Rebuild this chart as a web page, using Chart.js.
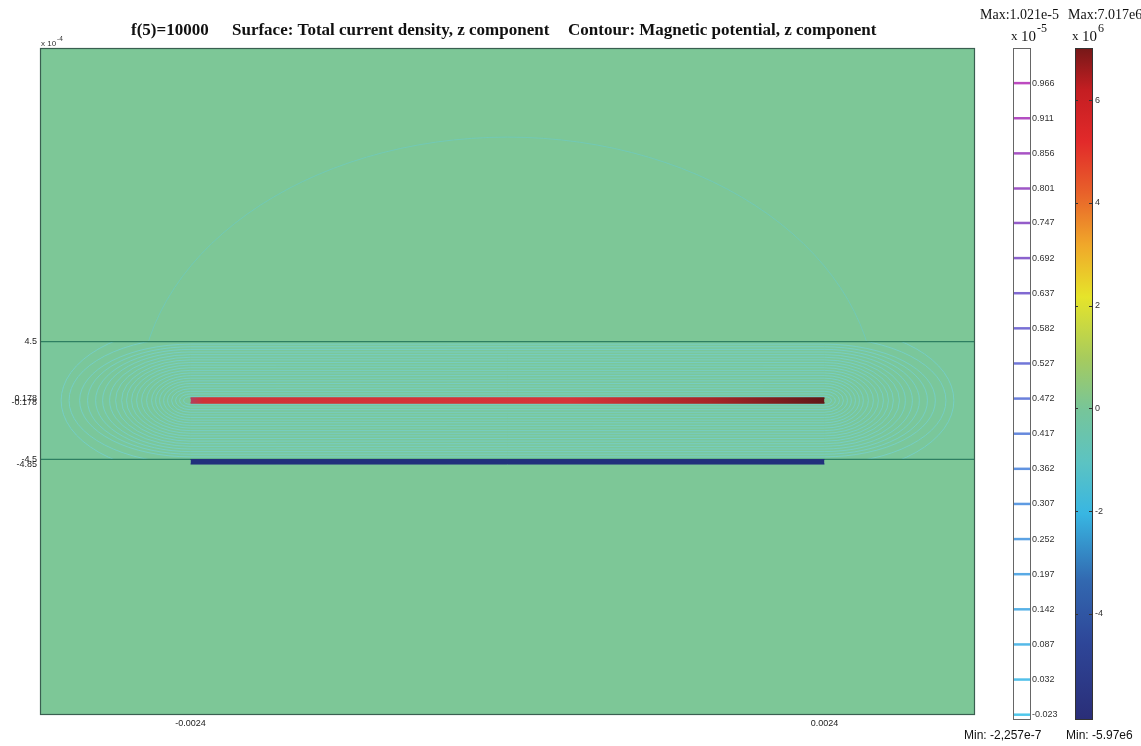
<!DOCTYPE html>
<html><head><meta charset="utf-8">
<script src="https://cdn.jsdelivr.net/npm/chart.js@4.4.0/dist/chart.umd.min.js"></script>
<style>html,body{margin:0;padding:0;background:#fff;}#wrap{width:1141px;height:746px;position:relative;}</style>
</head><body><div id="wrap"><canvas id="c" width="1141" height="746"></canvas></div>
<script>
// ---- data (x in m, y in units of 1e-4 m) ----
const xRange = [-0.00354, 0.00354];
const yRange = [-24.0, 26.9];
const xTicks = [-0.0024, 0.0024];
const xTickLabels = ['-0.0024', '0.0024'];
const yTicks = [4.5, 0.178, -0.178, -4.5, -4.85];
const yTickLabels = ['4.5', '0.178', '-0.178', '-4.5', '-4.85'];
const bandLines = [4.5, -4.5];
const conductorX = [-0.0024, 0.0024];
const topConductorY = [-0.178, 0.178];
const bottomConductorY = [-4.85, -4.5];
// contour half-heights (1e-4 m) and cap widths beyond conductor ends (m)
const contourOffsets = [0.3, 0.5, 0.7, 0.9, 1.1, 1.3, 1.5, 1.7, 1.9, 2.1, 2.3, 2.5, 2.7, 2.9, 3.1, 3.3, 3.5, 3.7, 3.9, 4.1, 4.3, 4.8, 5.6];
const contourCapWidths = [0.000053, 0.000083, 0.000114, 0.000144, 0.000174, 0.000204, 0.000235, 0.000265, 0.000295, 0.000333, 0.000371, 0.000409, 0.000447, 0.000485, 0.000522, 0.000568, 0.000613, 0.000666, 0.000719, 0.00078, 0.00084, 0.00092, 0.00098];
const outerArc = [0.00279, 20.1];
// contour legend (x1e-5) and surface legend (x1e6)
const potentialLevels = [0.966, 0.911, 0.856, 0.801, 0.747, 0.692, 0.637, 0.582, 0.527, 0.472, 0.417, 0.362, 0.307, 0.252, 0.197, 0.142, 0.087, 0.032, -0.023];
const potentialRange = [-0.0235, 1.021];
const currentTicks = [6, 4, 2, 0, -2, -4];
const currentRange = [-5.97, 7.017];

const sans = "'Liberation Sans', Arial, sans-serif";
const serif = "'Liberation Serif', 'Times New Roman', serif";

function seg(x0, x1, y) { return [{x: x0, y: y}, {x: x1, y: y}]; }

function redGrad(ctx) {
  const chart = ctx.chart;
  if (!chart.chartArea) return '#c83232';
  const xs = chart.scales.x;
  const g = chart.ctx.createLinearGradient(xs.getPixelForValue(conductorX[0]), 0, xs.getPixelForValue(conductorX[1]), 0);
  g.addColorStop(0, '#b04060');
  g.addColorStop(0.02, '#d03238');
  g.addColorStop(0.6, '#d6343a');
  g.addColorStop(0.82, '#a82428');
  g.addColorStop(1, '#601818');
  return g;
}

function levelColor(v) {
  const t = (v - potentialRange[0]) / (potentialRange[1] - potentialRange[0]);
  const stops = [[0, [80, 200, 235]], [0.35, [95, 150, 225]], [0.55, [115, 115, 215]], [0.75, [150, 90, 200]], [1, [200, 70, 190]]];
  for (let i = 1; i < stops.length; i++) {
    if (t <= stops[i][0]) {
      const a = stops[i - 1], b = stops[i];
      const f = (t - a[0]) / (b[0] - a[0]);
      const c = a[1].map((cv, k) => Math.round(cv + (b[1][k] - cv) * f));
      return `rgb(${c[0]},${c[1]},${c[2]})`;
    }
  }
  return 'rgb(200,70,190)';
}

function noPad(s) { s.paddingTop = 0; s.paddingBottom = 0; }

const decorPlugin = {
  id: 'decor',
  beforeDraw(chart) {
    const {ctx, chartArea: ca} = chart;
    ctx.save();
    ctx.fillStyle = '#ffffff';
    ctx.fillRect(0, 0, chart.width, chart.height);
    ctx.fillStyle = '#7dc797';
    ctx.fillRect(ca.left, ca.top, ca.width, ca.height);
    ctx.restore();
  },
  beforeDatasetsDraw(chart) {
    const {ctx, chartArea: ca, scales: {x, y}} = chart;
    const yTop = y.getPixelForValue(bandLines[0]), yBot = y.getPixelForValue(bandLines[1]);
    const xl = x.getPixelForValue(conductorX[0]), xr = x.getPixelForValue(conductorX[1]);
    const yc = y.getPixelForValue(0), xc = x.getPixelForValue(0);
    ctx.save();
    ctx.beginPath(); ctx.rect(ca.left, yTop, ca.width, yBot - yTop); ctx.clip();
    ctx.fillStyle = 'rgba(100,205,200,0.10)';
    ctx.fillRect(ca.left, yTop, ca.width, yBot - yTop);
    ctx.strokeStyle = 'rgba(115,212,228,0.7)';
    ctx.lineWidth = 0.8;
    contourOffsets.forEach((d, i) => {
      const ry = Math.abs(y.getPixelForValue(d) - yc);
      const rx = Math.abs(x.getPixelForValue(conductorX[0] - contourCapWidths[i]) - xl);
      ctx.beginPath();
      ctx.moveTo(xl, yc - ry); ctx.lineTo(xr, yc - ry);
      ctx.ellipse(xr, yc, rx, ry, 0, -Math.PI / 2, Math.PI / 2);
      ctx.lineTo(xl, yc + ry);
      ctx.ellipse(xl, yc, rx, ry, 0, Math.PI / 2, 3 * Math.PI / 2);
      ctx.stroke();
    });
    ctx.restore();
    ctx.save();
    ctx.beginPath(); ctx.rect(ca.left, ca.top, ca.width, yTop - ca.top); ctx.clip();
    const arx = Math.abs(x.getPixelForValue(outerArc[0]) - xc);
    const ary = Math.abs(y.getPixelForValue(outerArc[1]) - yc);
    ctx.strokeStyle = 'rgba(100,205,220,0.55)';
    ctx.lineWidth = 0.8;
    ctx.beginPath(); ctx.ellipse(xc, yc, arx, ary, 0, 0, 2 * Math.PI); ctx.stroke();
    ctx.restore();
  },
  afterDraw(chart) {
    const {ctx, chartArea: ca, scales} = chart;
    ctx.save();
    ctx.lineWidth = 1.2;
    ctx.strokeStyle = '#3a5f50';
    ctx.strokeRect(ca.left + 0.5, ca.top + 0.5, ca.width - 1, ca.height - 1);

    // contour legend bar
    const s2 = scales.y2;
    const b2x = s2.left + 38, b2w = 17;
    const b2t = s2.getPixelForValue(potentialRange[1]), b2b = s2.getPixelForValue(potentialRange[0]) + 4;
    ctx.fillStyle = '#ffffff';
    ctx.fillRect(b2x, b2t, b2w, b2b - b2t);
    ctx.strokeStyle = '#666';
    ctx.lineWidth = 1;
    ctx.strokeRect(b2x + 0.5, b2t + 0.5, b2w, b2b - b2t);
    ctx.lineWidth = 2.5;
    potentialLevels.forEach(v => {
      const py = s2.getPixelForValue(v);
      ctx.strokeStyle = levelColor(v);
      ctx.beginPath(); ctx.moveTo(b2x + 1, py); ctx.lineTo(b2x + b2w, py); ctx.stroke();
    });

    // surface legend bar (jet-like)
    const s3 = scales.y3;
    const b3x = s3.left + 15, b3w = 17;
    const b3t = s3.getPixelForValue(currentRange[1]), b3b = s3.getPixelForValue(currentRange[0]) + 4;
    const g = ctx.createLinearGradient(0, b3b, 0, b3t);
    const span = currentRange[1] - currentRange[0];
    const jet = [[-5.97, '#2a2e78'], [-4.5, '#2e4698'], [-3.3, '#3268b0'], [-2.0, '#38b6e2'], [-1.0, '#5cc3c2'], [0, '#76c59a'], [1.0, '#a6cb5e'], [2.2, '#e6e42a'], [3.2, '#f0a82a'], [4.2, '#e8622a'], [5.2, '#e22a2a'], [6.2, '#c41e22'], [7.017, '#761818']];
    jet.forEach(([v, c]) => g.addColorStop((v - currentRange[0]) / span, c));
    ctx.fillStyle = g;
    ctx.fillRect(b3x, b3t, b3w, b3b - b3t);
    ctx.strokeStyle = '#333';
    ctx.lineWidth = 1;
    ctx.strokeRect(b3x + 0.5, b3t + 0.5, b3w, b3b - b3t);
    currentTicks.forEach(v => {
      const py = Math.round(s3.getPixelForValue(v)) + 0.5;
      ctx.beginPath();
      ctx.moveTo(b3x, py); ctx.lineTo(b3x + 3, py);
      ctx.moveTo(b3x + b3w - 3, py); ctx.lineTo(b3x + b3w + 1, py);
      ctx.stroke();
    });

    // texts
    ctx.fillStyle = '#111';
    ctx.textBaseline = 'alphabetic';
    ctx.textAlign = 'left';
    ctx.font = `bold 17px ${serif}`;
    ctx.fillText('f(5)=10000', 131, 35);
    ctx.fillText('Surface: Total current density, z component', 232, 35);
    ctx.fillText('Contour: Magnetic potential, z component', 568, 35);

    ctx.font = `14px ${serif}`;
    ctx.fillText('Max:1.021e-5', 980, 19);
    ctx.fillText('Max:7.017e6', 1068, 19);
    ctx.font = `13px ${serif}`;
    ctx.fillText('x', 1011, 40);
    ctx.fillText('x', 1072, 40);
    ctx.font = `15px ${serif}`;
    ctx.fillText('10', 1021, 41);
    ctx.fillText('10', 1082, 41);
    ctx.font = `12px ${serif}`;
    ctx.fillText('-5', 1037, 32);
    ctx.fillText('6', 1098, 32);

    ctx.font = `12px ${sans}`;
    ctx.fillStyle = '#111';
    ctx.fillText('Min: -2,257e-7', 964, 739);
    ctx.fillText('Min: -5.97e6', 1066, 739);

    ctx.font = `8px ${sans}`;
    ctx.fillStyle = '#333';
    ctx.fillText('x 10', 41, 46);
    ctx.font = `6.5px ${sans}`;
    ctx.fillText('-4', 57, 41);
    ctx.restore();
  }
};

const cfg = {
  type: 'scatter',
  data: {
    datasets: [
      {data: seg(conductorX[0], conductorX[1], topConductorY[1]), fill: '+1', backgroundColor: redGrad, borderColor: redGrad, borderWidth: 1.8, showLine: true, pointRadius: 0},
      {data: seg(conductorX[0], conductorX[1], topConductorY[0]), borderColor: redGrad, borderWidth: 1.8, showLine: true, pointRadius: 0},
      {data: seg(conductorX[0], conductorX[1], bottomConductorY[1]), fill: '+1', backgroundColor: '#21307c', borderColor: '#21307c', borderWidth: 1, showLine: true, pointRadius: 0},
      {data: seg(conductorX[0], conductorX[1], bottomConductorY[0]), borderColor: '#21307c', borderWidth: 1, showLine: true, pointRadius: 0},
      {data: seg(xRange[0], xRange[1], bandLines[0]), borderColor: '#2e7f62', borderWidth: 1.2, showLine: true, pointRadius: 0},
      {data: seg(xRange[0], xRange[1], bandLines[1]), borderColor: '#2e7f62', borderWidth: 1.2, showLine: true, pointRadius: 0}
    ]
  },
  options: {
    responsive: false,
    animation: false,
    layout: {padding: {left: 0, top: 48, right: 0, bottom: 0}},
    plugins: {legend: {display: false}, tooltip: {enabled: false}, title: {display: false}},
    scales: {
      x: {
        type: 'linear', min: xRange[0], max: xRange[1],
        grid: {display: false, drawTicks: false}, border: {display: false},
        afterBuildTicks: s => { s.ticks = xTicks.map(v => ({value: v})); },
        afterFit: s => { s.height = 31; s.paddingLeft = 0; s.paddingRight = 0; },
        ticks: {padding: 3, font: {family: sans, size: 9}, color: '#222', maxRotation: 0, autoSkip: false,
          callback: (v, i) => xTickLabels[i]}
      },
      y: {
        type: 'linear', min: yRange[0], max: yRange[1],
        grid: {display: false, drawTicks: false}, border: {display: false},
        afterBuildTicks: s => { s.ticks = yTicks.map(v => ({value: v})); },
        afterFit: s => { s.width = 40; noPad(s); },
        ticks: {padding: 3, font: {family: sans, size: 9}, color: '#222', autoSkip: false,
          callback: (v, i) => yTickLabels[i]}
      },
      y2: {
        type: 'linear', position: 'right', weight: 0, min: potentialRange[0], max: potentialRange[1],
        grid: {display: false, drawTicks: false}, border: {display: false},
        afterBuildTicks: s => { s.ticks = potentialLevels.map(v => ({value: v})); },
        afterFit: s => { s.width = 85; noPad(s); },
        ticks: {padding: 57, font: {family: sans, size: 9}, color: '#333', autoSkip: false,
          callback: v => v.toFixed(3)}
      },
      y3: {
        type: 'linear', position: 'right', weight: 1, min: currentRange[0], max: currentRange[1],
        grid: {display: false, drawTicks: false}, border: {display: false},
        afterBuildTicks: s => { s.ticks = currentTicks.map(v => ({value: v})); },
        afterFit: s => { s.width = 81; noPad(s); },
        ticks: {padding: 35, font: {family: sans, size: 9}, color: '#333', autoSkip: false,
          callback: v => String(v)}
      }
    }
  },
  plugins: [decorPlugin]
};
new Chart(document.getElementById('c'), cfg);
</script></body></html>
